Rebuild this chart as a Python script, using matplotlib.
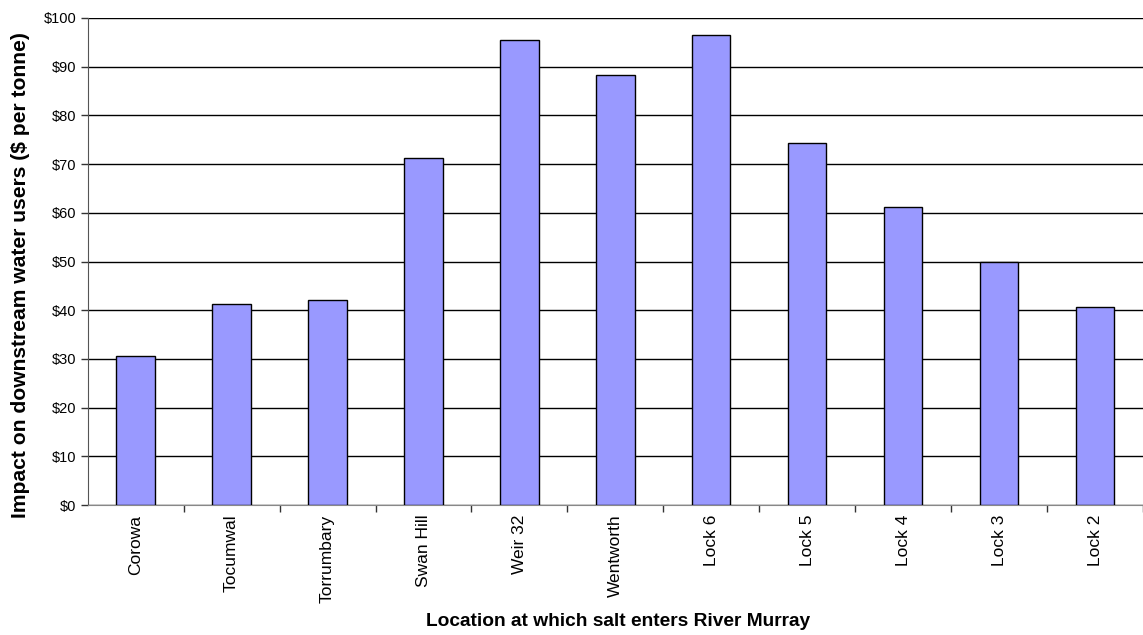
import matplotlib
matplotlib.use("Agg")
import matplotlib.pyplot as plt
from matplotlib.ticker import FixedLocator, FuncFormatter

# ---- DATA ----
locations = ["Corowa", "Tocumwal", "Torrumbary", "Swan Hill", "Weir 32",
             "Wentworth", "Lock 6", "Lock 5", "Lock 4", "Lock 3", "Lock 2"]
impact = [30.6, 41.2, 42.0, 71.2, 95.4, 88.3, 96.6, 74.4, 61.2, 49.8, 40.7]
y_ticks = [0, 10, 20, 30, 40, 50, 60, 70, 80, 90, 100]

BAR_COLOR = "#9999FF"

plt.rcParams["font.family"] = ["Liberation Sans", "DejaVu Sans"]

fig = plt.figure(figsize=(11.43, 6.35), dpi=100)
ax = fig.add_axes([87.7 / 1143, 1 - 505 / 635, 1 - 87.7 / 1143, (505 - 18) / 635])

x = list(range(len(locations)))
ax.bar(x, impact, width=0.4, color=BAR_COLOR, edgecolor="black", linewidth=1.0, zorder=3)

# chart is cut off on the right, so the last category is not shown in full
ax.set_xlim(-0.5, (1143 - 87.7) / 96.4 - 0.5)
ax.set_ylim(0, 100)

ax.yaxis.set_major_locator(FixedLocator(y_ticks))
ax.yaxis.set_major_formatter(FuncFormatter(lambda v, p: f"${v:.0f}"))
ax.grid(axis="y", color="black", linewidth=1.0, zorder=0)
ax.set_axisbelow(True)

# category boundary ticks outside, small centre ticks inside
ax.set_xticks([i + 0.5 for i in x])
ax.set_xticklabels([])
ax.tick_params(axis="x", which="major", direction="out", length=5, width=1, color="#333333")
ax.set_xticks(x, minor=True)
ax.set_xticklabels(locations, minor=True, rotation=90, ha="center", va="top", fontsize=12.5)
ax.tick_params(axis="x", which="minor", direction="in", length=4, width=1, color="#888888", pad=7)
ax.tick_params(axis="y", direction="out", length=5, width=1, color="#333333", labelsize=10.5, pad=3)

for side in ["top", "right"]:
    ax.spines[side].set_visible(False)
ax.spines["left"].set_color("#555555")
ax.spines["bottom"].set_color("#888888")

fig.text(618 / 1143, 1 - 622 / 635, "Location at which salt enters River Murray",
         ha="center", va="center", fontsize=13.8, fontweight="bold")
fig.text(21 / 1143, 1 - 275 / 635, "Impact on downstream water users ($ per tonne)",
         ha="center", va="center", rotation=90, fontsize=15.2, fontweight="bold")

fig.savefig("out.png", dpi=100)
